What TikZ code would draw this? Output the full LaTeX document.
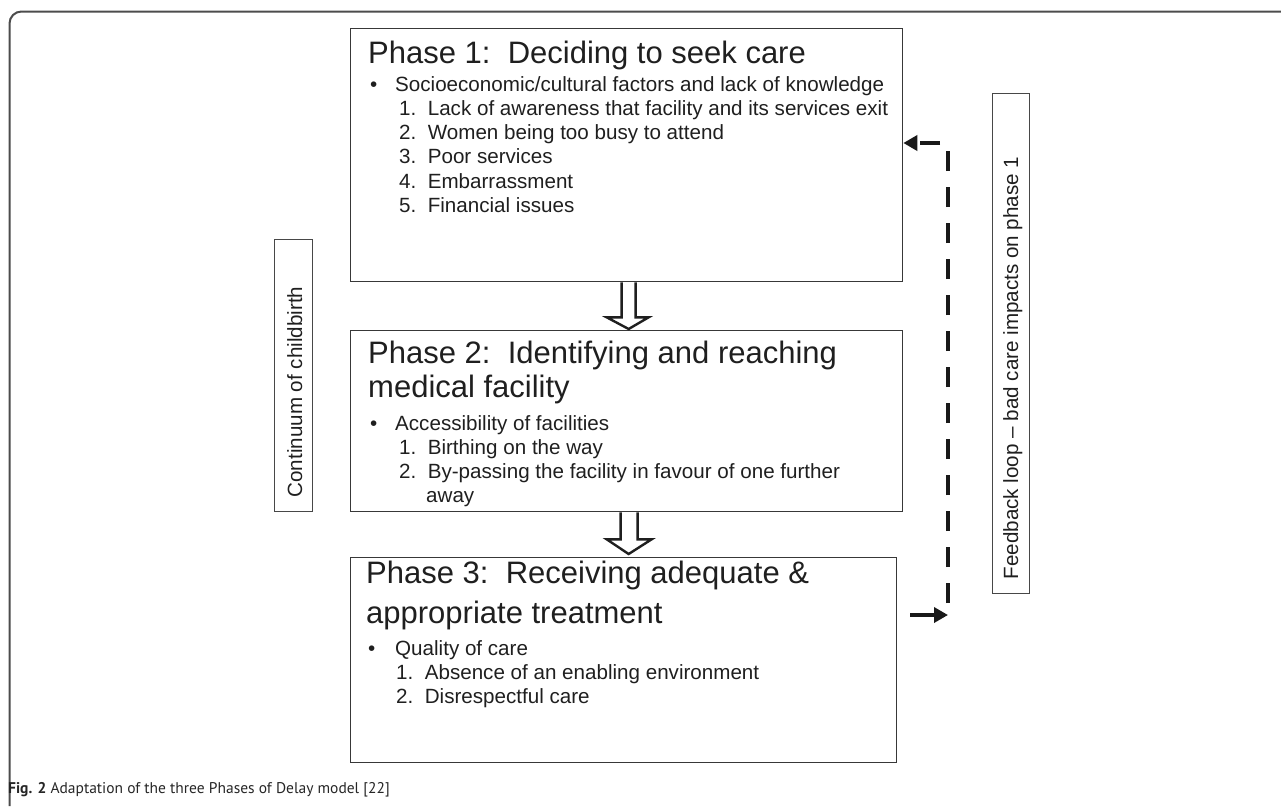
\documentclass[tikz,border=0pt]{standalone}
\usepackage{fontspec}
\setmainfont{Liberation Sans}
\newfontfamily\capfont{PT Sans}
\usetikzlibrary{arrows.meta,calc}
\tikzset{
  phasebox/.style={draw=black!78, line width=1.3pt, anchor=north west, inner sep=0pt},
  sidebox/.style={draw=black!72, line width=1.3pt, anchor=north west, inner sep=0pt},
  ttl/.style={anchor=base west, inner sep=0pt, font=\fontsize{31}{31}\selectfont, text=black!88},
  txt/.style={anchor=base west, inner sep=0pt, font=\fontsize{20.6}{22}\selectfont, text=black!88},
  rottxt/.style={rotate=90, anchor=base, inner sep=0pt, font=\fontsize{20.6}{22}\selectfont, text=black!88},
  hollow/.style={draw=black!88, line width=2.4pt, fill=white, line join=miter},
  fbline/.style={draw=black!90, line width=4.6pt},
  tip/.style={-{Triangle[length=14pt,width=15pt]}}
}
\begin{document}
\begin{tikzpicture}[x=1pt,y=-1pt]
\useasboundingbox (0,0) rectangle (1281,806);
% outer frame
\draw[black!70, line width=2pt, rounded corners=12pt] (9.5,806) -- (9.5,11.5) -- (1281,11.5);

% boxes
\node[phasebox, minimum width=552pt, minimum height=253pt] (b1) at (350,28) {};
\node[phasebox, minimum width=552pt, minimum height=181pt] (b2) at (350,330) {};
\node[phasebox, minimum width=546pt, minimum height=205pt] (b3) at (350,557) {};
\node[sidebox, minimum width=38pt, minimum height=272pt] (cont) at (274,239) {};
\node[sidebox, minimum width=37pt, minimum height=500pt] (fb) at (992,93) {};

% box 1 text
\node[ttl] (t1) at (368,63) {Phase 1:\ \ Deciding to seek care};
\node[txt] (t1bul) at (370,91) {\textbullet};
\node[txt] (t1a) at (395,91) {Socioeconomic/cultural factors and lack of knowledge};
\node[txt] (t1n1) at (399,115) {1.\ \ Lack of awareness that facility and its services exit};
\node[txt] (t1n2) at (399,139.5) {2.\ \ Women being too busy to attend};
\node[txt] (t1n3) at (399,163.5) {3.\ \ Poor services};
\node[txt] (t1n4) at (399,188) {4.\ \ Embarrassment};
\node[txt] (t1n5) at (399,212) {5.\ \ Financial issues};

% box 2 text
\node[ttl] (t2) at (368,363) {Phase 2:\ \ Identifying and reaching};
\node[ttl] (t2b) at (368,397) {medical facility};
\node[txt] (t2bul) at (370,430) {\textbullet};
\node[txt] (t2a) at (395,430) {Accessibility of facilities};
\node[txt] (t2n1) at (399,454) {1.\ \ Birthing on the way};
\node[txt] (t2n2) at (399,478) {2.\ \ By-passing the facility in favour of one further};
\node[txt] (t2n2b) at (426,502) {away};

% box 3 text
\node[ttl] (t3) at (366,583) {Phase 3:\ \ Receiving adequate \&};
\node[ttl] (t3b) at (366,623) {appropriate treatment};
\node[txt] (t3bul) at (368,655) {\textbullet};
\node[txt] (t3a) at (395,655) {Quality of care};
\node[txt] (t3n1) at (396,679) {1.\ \ Absence of an enabling environment};
\node[txt] (t3n2) at (396,703) {2.\ \ Disrespectful care};

% side texts
\node[rottxt] (conttxt) at (302,392) {Continuum of childbirth};
\node[rottxt] (fbtxt) at (1018,368) {Feedback loop -- bad care impacts on phase 1};

% hollow arrows
\draw[hollow] ($(b1.south)+(-5,0)$) -- ++(0,35) -- ++(-15,0) -- ($(b2.north)+(2,-1)$) -- ($(b1.south)+(22,35)$) -- ++(-13,0) -- ($(b1.south)+(9,0)$);
\draw[hollow] ($(b2.south)+(-6,0)$) -- ++(0,27) -- ++(-14,0) -- ($(b3.north)+(5,-3)$) -- ($(b2.south)+(25,27)$) -- ++(-14,0) -- ($(b2.south)+(11,0)$);

% feedback loop
\coordinate (fbs) at (910,615);
\coordinate (fbe) at (948,615);
\coordinate (fbb) at (948,603);
\coordinate (fbt) at (948,143);
\coordinate (fbend) at (b1.east |- fbt);
\draw[fbline, tip] (fbs) -- (fbe);
\draw[fbline, tip, dash pattern=on 20pt off 16pt] (fbb) -- (fbt) -- (fbend);

% caption
\node[anchor=base west, inner sep=0pt, font=\capfont\fontsize{15.5}{16}\selectfont, text=black!85] (cap) at (8,793) {\textbf{Fig. 2} Adaptation of the three Phases of Delay model [22]};
\end{tikzpicture}
\end{document}
